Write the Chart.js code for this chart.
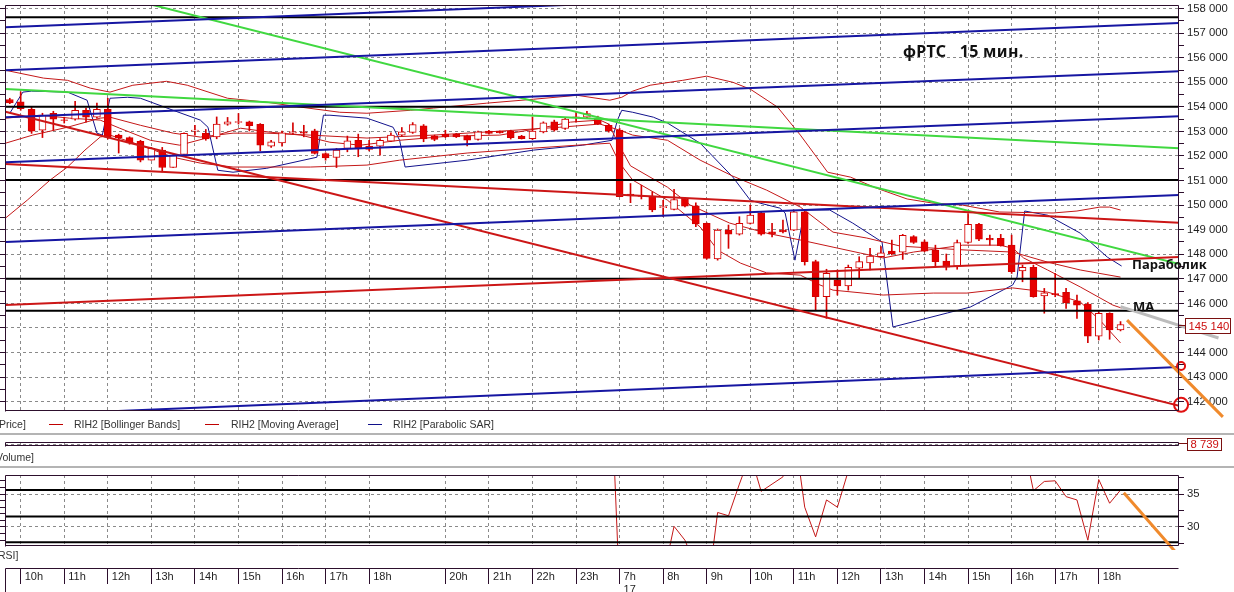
<!DOCTYPE html>
<html>
<head>
<meta charset="utf-8">
<title>фРТС 15 мин.</title>
<script src="https://cdn.jsdelivr.net/npm/chart.js@4.4.1/dist/chart.umd.min.js"></script>
<style>
  html, body { margin: 0; padding: 0; background: #fff; }
  body { width: 1234px; height: 592px; position: relative; overflow: hidden; font-family: 'Liberation Sans', Arial, sans-serif; }
  canvas { position: absolute; left: 0; }
  #priceChart { top: 0; }
  #volumeChart { top: 436px; }
  #rsiChart { top: 470px; }
  #timeChart { top: 560px; }
  .sep { position: absolute; left: 0; width: 1234px; height: 2px; background: #b4b4b4; }
  .pane { position: absolute; font-size: 10.5px; line-height: 12px; color: #333; white-space: pre; }
  .dash { position: absolute; height: 1px; width: 14px; }
  .note { position: absolute; font-family: 'Noto Sans', sans-serif; font-weight: bold; color: #111; white-space: pre; }
</style>
</head>
<body>
<canvas id="priceChart" width="1234" height="420"></canvas>
<canvas id="volumeChart" width="1234" height="16"></canvas>
<canvas id="rsiChart" width="1234" height="80"></canvas>
<canvas id="timeChart" width="1234" height="32"></canvas>

<div class="pane" style="left:-1px;top:418px">Price]</div>
<div class="dash" style="left:49px;top:424px;background:#c00000"></div>
<div class="pane" style="left:74px;top:418px">RIH2 [Bollinger Bands]</div>
<div class="dash" style="left:205px;top:424px;background:#c00000"></div>
<div class="pane" style="left:231px;top:418px">RIH2 [Moving Average]</div>
<div class="dash" style="left:368px;top:424px;background:#10108a"></div>
<div class="pane" style="left:393px;top:418px">RIH2 [Parabolic SAR]</div>
<div class="sep" style="top:433px"></div>
<div class="pane" style="left:-4px;top:451px">Volume]</div>
<div class="sep" style="top:466px"></div>
<div class="pane" style="left:-2px;top:549px">RSI]</div>

<div class="note" style="left:903px;top:40px;font-size:16px;letter-spacing:0.3px">фРТС   15 мин.</div>
<div class="note" style="left:1132px;top:255px;font-size:13px">Параболик</div>
<div class="note" style="left:1133px;top:297px;font-size:13px">MA</div>

<script>
// bar index of each hour line on the time axis
const hourTicks = [1, 5, 9, 13, 17, 21, 25, 29, 33, 40, 44, 48, 52, 56, 60, 64, 68, 72, 76, 80, 84, 88, 92, 96, 100];
const hourLabels = ['10h', '11h', '12h', '13h', '14h', '15h', '16h', '17h', '18h', '20h', '21h', '22h', '23h',
  ['7h', '17'], '8h', '9h', '10h', '11h', '12h', '13h', '14h', '15h', '16h', '17h', '18h'];

// 15 min candles, RIH2
const opens = [
  154300, 154200, 153900, 153050, 153740, 153470, 153500, 153860, 153580, 153900,
  152850, 152750, 152600, 151830, 152240, 151530, 152060, 153010, 152920, 152780,
  153300, 153370, 153390, 153290, 152400, 152530, 152930, 152980, 153020, 152100,
  151940, 152310, 152640, 152400, 152400, 152600, 152850, 152960, 153230, 152820,
  152890, 152880, 152820, 152670, 153010, 153010, 153010, 152810, 152710, 152980,
  153390, 153120, 153560, 153580, 153530, 153250, 153050, 150450, 150390, 150370,
  149900, 149830, 150270, 149970, 149260, 147810, 148980, 148820, 149260, 149690,
  148910, 148980, 148980, 149730, 147700, 146270, 146950, 146710, 147430, 147650,
  147900, 148130, 148090, 148720, 148510, 148170, 147720, 147520, 148480, 149220,
  148650, 148650, 148370, 147320, 147470, 146300, 146400, 146450, 146100, 145970,
  144670, 145600, 144920
];
const highs = [
  154350, 154610, 153990, 153740, 153820, 153580, 154230, 153950, 154150, 154350,
  152890, 152780, 152640, 152350, 152350, 152060, 152940, 153250, 153080, 153590,
  153570, 153730, 153420, 153320, 152640, 153010, 153350, 153250, 153090, 152130,
  152310, 152810, 152890, 152640, 152710, 152940, 153160, 153360, 153280, 152850,
  153050, 152920, 152850, 153010, 153040, 153020, 153050, 152840, 153590, 153390,
  153460, 153530, 153780, 153820, 153620, 153300, 153120, 150880, 150810, 150540,
  150200, 150640, 150310, 150090, 149280, 149030, 149190, 149530, 150000, 149730,
  149260, 149390, 149800, 149800, 147760, 147390, 147360, 147560, 147900, 148240,
  148310, 148580, 148810, 148760, 148580, 148370, 148010, 148580, 149660, 149260,
  148780, 148810, 148780, 147560, 147560, 146610, 147220, 146610, 146340, 146030,
  145660, 145620, 145260
];
const lows = [
  154130, 153860, 152920, 152750, 153050, 153340, 153460, 153380, 153540, 152690,
  152120, 152480, 151760, 151830, 151350, 151530, 152060, 152850, 152640, 152700,
  153250, 153300, 153020, 152210, 152350, 152400, 152890, 152780, 152080, 151830,
  151530, 152170, 151970, 152210, 152030, 152580, 152810, 152920, 152580, 152620,
  152750, 152750, 152410, 152640, 152890, 152930, 152690, 152690, 152670, 152940,
  153010, 153080, 153380, 153540, 153280, 152970, 150340, 150100, 150250, 149730,
  149530, 149800, 149930, 149120, 147800, 147760, 148240, 148780, 149230, 148780,
  148710, 148870, 148960, 147560, 145730, 145390, 146340, 146540, 147020, 147360,
  147890, 147970, 147790, 148440, 148100, 147470, 147360, 147390, 148440, 148550,
  148370, 148330, 147220, 146880, 146250, 145600, 146270, 145800, 145390, 144400,
  144510, 144540, 144880
];
const closes = [
  154160, 153930, 153010, 153660, 153500, 153450, 153860, 153580, 153900, 152770,
  152750, 152530, 151830, 152310, 151530, 152030, 152920, 153050, 152690, 153300,
  153390, 153400, 153230, 152440, 152580, 152940, 152980, 152930, 152100, 151920,
  152240, 152620, 152310, 152270, 152640, 152850, 152980, 153280, 152690, 152670,
  152780, 152780, 152640, 152980, 152920, 152940, 152750, 152710, 153010, 153350,
  153050, 153500, 153590, 153730, 153300, 153020, 150340, 150370, 150350, 149800,
  149940, 150230, 149960, 149230, 147830, 148980, 148820, 149260, 149590, 148820,
  148820, 148910, 149730, 147700, 146270, 147220, 146710, 147470, 147700, 147930,
  148060, 148020, 148770, 148480, 148130, 147700, 147470, 148480, 149220, 148610,
  148580, 148350, 147290, 147470, 146270, 146430, 146360, 146030, 145930, 144670,
  145600, 144920, 145140
];

// indicators, [bar index, price]
const bbUpper = [[-0.4, 155490], [3.1, 155170], [5.3, 155080], [7.4, 154760], [9.2, 154600], [11.3, 154880],
  [14.4, 155040], [16.3, 154880], [20.0, 154350], [23.6, 154190], [26.7, 153990], [30.3, 153780], [32.8, 153740],
  [36.8, 153860], [38.9, 153950], [43.8, 154150], [48.1, 154310], [52.1, 154470], [55.1, 154270], [56.2, 154390],
  [57.2, 154640], [58.8, 154880], [61.8, 155080], [64.0, 155250], [66.4, 155000], [68.0, 154720], [70.5, 153990],
  [72.6, 152850], [74.1, 151950], [75.1, 151340], [77.2, 151140], [79.6, 150690], [82.4, 150250], [84.8, 150080],
  [87.5, 150000], [90.9, 149720], [95.8, 149680], [98.0, 149760], [100.1, 149920], [101.0, 149920], [102.0, 149800]];
const bbMiddle = [[-0.4, 152520], [2.1, 152850], [5.3, 153170], [8.3, 153540], [9.2, 153580], [12.0, 153250],
  [15.0, 152930], [17.5, 152770], [20.5, 152930], [23.6, 152930], [27.6, 152850], [32.8, 152730], [38.9, 152850],
  [45.0, 153010], [50.5, 153170], [54.2, 153300], [56.0, 153050], [57.2, 152850], [60.4, 152640], [63.4, 151830],
  [66.4, 151180], [69.5, 150610], [72.6, 149920], [75.6, 148900], [78.7, 148660], [81.8, 148330], [84.8, 148250],
  [87.9, 148170], [92.1, 148090], [95.3, 147680], [98.3, 147360], [102.0, 147070]];
const bbLower = [[-0.4, 149470], [1.6, 150200], [3.7, 151020], [5.3, 151550], [6.9, 152240], [8.3, 152770],
  [9.2, 152850], [12.0, 152440], [15.0, 151950], [17.5, 151710], [20.5, 151550], [27.6, 151550], [32.8, 151630],
  [35.8, 151830], [42.0, 152120], [48.1, 152320], [52.1, 152440], [55.1, 152520], [56.0, 151710], [57.2, 151020],
  [60.4, 150200], [63.4, 149110], [65.0, 148170], [67.1, 147640], [69.5, 147240], [72.6, 147150], [74.4, 146750],
  [75.6, 146540], [80.2, 146340], [84.8, 146420], [87.9, 146420], [92.1, 146630], [95.3, 146460], [98.3, 146060],
  [100.1, 145320], [102.0, 144390]];
const maFast = [[-0.4, 153540], [2.8, 153660], [5.5, 153540], [8.3, 153460], [10.1, 153130], [12.9, 152640],
  [15.6, 152440], [18.4, 152770], [21.2, 153130], [23.9, 152970], [26.7, 152850], [29.4, 152560], [32.2, 152440],
  [35.8, 152640], [40.4, 152810], [45.0, 152850], [48.7, 153130], [51.5, 153380], [54.2, 153460], [55.0, 153300],
  [56.0, 152400], [57.0, 151600], [60.4, 150730], [62.5, 150000], [66.1, 149270], [69.5, 148860], [72.6, 148580],
  [75.6, 148290], [78.1, 148050], [80.2, 147850], [83.0, 148090], [87.5, 148370], [90.9, 148370], [92.1, 148250],
  [93.1, 147850], [95.3, 147360], [98.3, 146670], [101.3, 145930], [102.1, 145810]];
const sar = [[0.0, 153740], [1.2, 154600], [2.0, 154640], [5.3, 154600], [7.1, 154270], [8.0, 152930], [8.5, 152850],
  [9.2, 154350], [10.8, 154390], [12.0, 154350], [15.0, 153860], [17.5, 153460], [18.2, 153170], [19.1, 151420],
  [20.5, 151340], [23.6, 151500], [28.2, 151950], [28.8, 153660], [29.4, 153660], [32.8, 153540], [35.2, 153170],
  [35.8, 152640], [36.3, 151550], [42.0, 151830], [48.1, 152240], [52.6, 152440], [55.3, 152640], [55.8, 153460],
  [56.2, 153860], [57.2, 153780], [59.1, 153580], [60.4, 153340], [63.4, 152520], [66.4, 151140], [68.0, 150200],
  [68.9, 150080], [70.7, 149880], [71.2, 149680], [72.1, 147760], [73.0, 149800], [75.3, 149800], [77.4, 149270],
  [80.1, 148500], [81.1, 145040], [86.1, 145610], [88.2, 145850], [92.1, 146750], [92.5, 147070], [93.2, 149760],
  [95.3, 149590], [98.3, 148860], [100.8, 147880], [102.1, 147520]];

// hand-drawn trend lines
const blueLines = [
  [[-0.4, 157240], [107.4, 159140]],
  [[-0.4, 155490], [107.4, 157415]],
  [[-0.4, 153580], [107.4, 155450]],
  [[-0.4, 151750], [107.4, 153620]],
  [[-0.4, 148500], [107.4, 150410]],
  [[-0.4, 141430], [107.4, 143410]]
];
const greenLines = [
  [[-0.4, 159660], [107.4, 147600]],
  [[-0.4, 154730], [107.4, 152310]]
];
const redLines = [
  [[-0.4, 153800], [107.4, 141830]],
  [[-0.4, 151670], [107.4, 149280]],
  [[-0.4, 145930], [107.4, 147890]]
];
const levels = [157650, 154000, 151020, 147000, 145700];
const maForecast = [[102, 145870], [111, 144590]];
const priceArrow = [[102.6, 145320], [111.4, 141380]];
const targets = [[107.56, 143450], [107.56, 141870]];

const rsi = [
  52, 50, 44, 47, 46, 46, 49, 47, 50, 42,
  41, 40.5, 40, 43, 41, 44, 49, 50, 48, 52,
  53, 53, 52, 46, 47, 50, 50, 50, 45, 43,
  46, 49, 47, 46, 48, 50, 52, 54, 48, 47,
  47, 47, 46, 49, 50, 50, 48, 47, 50, 53,
  52, 55, 56, 57, 55, 60, 20, 17, 19, 16,
  22.4, 30.1, 28, 24, 19.2, 32.2, 31.7, 36.5, 41, 35.4,
  36.5, 37.6, 45, 33, 28.5, 34.1, 33, 38.5, 46, 48,
  49, 48, 52, 50, 47, 42, 41, 47, 53, 47,
  46, 45, 41, 43.5, 35.5, 36.9, 37.0, 34.6, 34.1, 28.0,
  37.2, 33.6, 35.6
];
const rsiLevels = [35.6, 31.6, 27.7];
const rsiArrow = [[102.3, 35.2], [108.75, 23.0]];
const lastVolume = 8739;

const X_MIN = -0.44, X_MAX = 107.37;
const P_MIN = 141620, P_MAX = 158146;
const R_MIN = 27.12, R_MAX = 37.88;

const FONT = "'Liberation Sans', Arial, sans-serif";
const frameColor = '#2d0f2d';
const gridGray = '#8a8a8a';
const thinRed = '#c41818';

const fmt = v => String(v).replace(/(\d)(?=(\d{3})$)/, '$1 ');
const pts = arr => arr.map(p => ({ x: p[0], y: p[1] }));
const span = v => [[X_MIN, v], [X_MAX, v]];

function stepTicks(min, max, step) {
  const out = [];
  for (let v = Math.ceil(min / step) * step; v <= max + 1e-9; v += step) out.push({ value: +v.toFixed(4) });
  return out;
}

// keep the plot area exactly where the layout puts it
function noPad(s) { s.paddingTop = 0; s.paddingBottom = 0; s.paddingLeft = 0; s.paddingRight = 0; }

function line(points, color, width, order, extra) {
  return Object.assign({
    type: 'line', data: pts(points), borderColor: color, borderWidth: width,
    pointRadius: 0, fill: false, tension: 0, order: order, clip: 0
  }, extra || {});
}

function hourAxis(extra) {
  return Object.assign({
    type: 'linear', min: X_MIN, max: X_MAX, offset: false,
    afterBuildTicks: s => { s.ticks = hourTicks.map(v => ({ value: v })); },
    afterFit: s => { s.height = 0; noPad(s); },
    ticks: { display: false },
    grid: { color: gridGray, drawTicks: false, offset: false },
    border: { display: false, dash: [3, 3] }
  }, extra || {});
}

function leftTicks(min, max, step) {
  return {
    type: 'linear', position: 'left', min: min, max: max,
    afterBuildTicks: s => { s.ticks = stepTicks(min, max, step); },
    afterFit: s => { s.width = 5; noPad(s); },
    ticks: { display: false },
    grid: { drawOnChartArea: false, tickLength: 5, tickColor: frameColor },
    border: { display: false }
  };
}

function rightAxis(min, max, step, labelEvery, gridEvery) {
  return {
    type: 'linear', position: 'right', min: min, max: max,
    afterBuildTicks: s => { s.ticks = stepTicks(min, max, step); },
    afterFit: s => { s.width = 55; noPad(s); },
    ticks: {
      autoSkip: false, padding: 3, color: '#1e1e1e', font: { family: FONT, size: 11.3 },
      callback: v => (labelEvery && Math.abs(v / labelEvery - Math.round(v / labelEvery)) < 1e-6) ? fmt(v) : ''
    },
    grid: {
      tickLength: 5, tickColor: frameColor,
      color: c => (gridEvery && c.tick && Math.abs(c.tick.value / gridEvery - Math.round(c.tick.value / gridEvery)) < 1e-6) ? gridGray : 'rgba(0,0,0,0)'
    },
    border: { display: false, dash: [3, 3] }
  };
}

const framePlugin = {
  id: 'frame',
  afterDatasetsDraw(chart, args, opts) {
    const { ctx } = chart;
    // the time strip is framed by its axis box, the panels by the plot area
    const a = opts.useAxis ? chart.scales.x : chart.chartArea;
    const sides = opts.sides || 'tlrb';
    const L = Math.round(a.left) + 0.5, R = Math.round(a.right) - 0.5;
    const T = Math.round(a.top) + 0.5, B = Math.round(a.bottom) - 0.5;
    ctx.save();
    ctx.strokeStyle = frameColor;
    ctx.lineWidth = 1;
    ctx.beginPath();
    if (sides.includes('t')) { ctx.moveTo(L, T); ctx.lineTo(R, T); }
    if (sides.includes('b')) { ctx.moveTo(L, B); ctx.lineTo(R, B); }
    if (sides.includes('l')) { ctx.moveTo(L, T); ctx.lineTo(L, B + 1); }
    if (sides.includes('r')) { ctx.moveTo(R, T); ctx.lineTo(R, B); }
    ctx.stroke();
    ctx.restore();
  }
};

const tagPlugin = {
  id: 'tag',
  afterDraw(chart, args, opts) {
    if (!opts.text) return;
    const { ctx, chartArea: a } = chart;
    const y = Math.round(chart.scales[opts.axis].getPixelForValue(opts.value)) + 0.5;
    const x0 = Math.round(a.right + opts.gap) + 0.5;
    const h = opts.height, w = opts.width;
    ctx.save();
    ctx.strokeStyle = '#7a1010';
    ctx.lineWidth = 1;
    ctx.beginPath(); ctx.moveTo(a.right, y); ctx.lineTo(x0, y); ctx.stroke();
    ctx.fillStyle = '#fff';
    ctx.fillRect(x0, Math.round(y - h / 2), w, h);
    ctx.strokeRect(x0, Math.round(y - h / 2) + 0.5, w, h);
    ctx.fillStyle = '#cc1010';
    ctx.font = '11.3px ' + FONT;
    ctx.textBaseline = 'middle';
    ctx.fillText(opts.text, x0 + 3, y + 1);
    ctx.restore();
  }
};

// autoPadding off: the outside marks (arrow, circles) must not move the plot area
function opts(padding, scales, pluginOpts) {
  return {
    responsive: false,
    animation: false,
    events: [],
    layout: { autoPadding: false, padding: padding },
    scales: scales,
    plugins: Object.assign({ legend: { display: false }, tooltip: { enabled: false } }, pluginOpts)
  };
}

// price panel
const bull = i => closes[i] >= opens[i];
new Chart(document.getElementById('priceChart'), {
  type: 'bar',
  data: {
    datasets: [
      line(bbUpper, thinRed, 1, 7),
      line(bbMiddle, thinRed, 1, 7),
      line(bbLower, thinRed, 1, 7),
      line(maFast, thinRed, 1, 7),
      line(sar, '#12128c', 1, 7),
      {
        type: 'bar', data: lows.map((l, i) => ({ x: i, y: [l, highs[i]] })),
        backgroundColor: '#d40000', barThickness: 1, grouped: false, order: 6
      },
      {
        type: 'bar', data: opens.map((o, i) => ({ x: i, y: [o, closes[i]] })),
        backgroundColor: c => bull(c.dataIndex) ? '#ffffff' : '#e60000',
        borderColor: '#d40000', borderWidth: 1, borderSkipped: false,
        barThickness: 7, grouped: false, order: 5
      },
      ...levels.map(v => line(span(v), '#000000', 2, 4)),
      ...blueLines.map(l => line(l, '#1616a2', 2, 3)),
      ...redLines.map(l => line(l, '#cc1616', 2, 3)),
      ...greenLines.map(l => line(l, '#40d840', 2, 3)),
      line(maForecast, '#bcbcbc', 3, 1, { clip: false }),
      line(priceArrow, '#f08a2c', 3, 1, {
        clip: false, pointRadius: [0, 5], pointStyle: 'triangle', pointRotation: 135,
        pointBackgroundColor: '#f08a2c', pointBorderWidth: 0
      }),
      {
        type: 'line', data: pts(targets), showLine: false, pointRadius: [4, 7],
        pointBorderColor: '#e01010', pointBackgroundColor: 'rgba(0,0,0,0)', pointBorderWidth: 2,
        clip: false, order: 1
      }
    ]
  },
  options: opts({ top: 5, bottom: 9, left: 0, right: 0 }, {
    x: hourAxis(),
    y: rightAxis(P_MIN, P_MAX, 500, 1000, 1000),
    yl: leftTicks(P_MIN, P_MAX, 500)
  }, {
    frame: { sides: 'tlrb' },
    tag: { axis: 'y', value: closes[closes.length - 1], text: fmt(closes[closes.length - 1]), gap: 6, width: 45, height: 15 }
  }),
  plugins: [framePlugin, tagPlugin]
});

// volume strip
new Chart(document.getElementById('volumeChart'), {
  type: 'bar',
  data: { datasets: [] },
  options: opts({ top: 6, bottom: 6, left: 0, right: 0 }, {
    x: hourAxis(),
    y: Object.assign(rightAxis(0, 10000, 5000, 0, 5000), {
      afterBuildTicks: s => { s.ticks = [{ value: 5000 }]; },
      ticks: { display: false },
      grid: { drawTicks: false, color: gridGray }
    }),
    yl: Object.assign(leftTicks(0, 10000, 5000), { grid: { display: false } })
  }, {
    frame: { sides: 'tlrb' },
    tag: { axis: 'y', value: lastVolume, text: fmt(lastVolume), gap: 8, width: 34, height: 12 }
  }),
  plugins: [framePlugin, tagPlugin]
});

// RSI panel
new Chart(document.getElementById('rsiChart'), {
  type: 'line',
  data: {
    datasets: [
      line(rsi.map((v, i) => [i, v]), '#c41818', 1, 3),
      ...rsiLevels.map(v => line(span(v), '#000000', 2, 2)),
      line(rsiArrow, '#f08a2c', 3, 1, { clip: false })
    ]
  },
  options: opts({ top: 5, bottom: 4, left: 0, right: 0 }, {
    x: hourAxis(),
    y: rightAxis(R_MIN, R_MAX, 2.5, 5, 5),
    yl: leftTicks(R_MIN, R_MAX, 1)
  }, { frame: { sides: 'tlrb' } }),
  plugins: [framePlugin]
});

// time axis: the axis box itself holds the hour cells
new Chart(document.getElementById('timeChart'), {
  type: 'line',
  data: { datasets: [] },
  options: opts({ top: 7, bottom: 0, left: 0, right: 0 }, {
    x: hourAxis({
      afterFit: s => { s.height = 24; noPad(s); },
      ticks: {
        display: true, autoSkip: false, maxRotation: 0, align: 'start', labelOffset: 4, padding: -13.6,
        color: '#1e1e1e', font: { family: FONT, size: 11 },
        callback: (v, i) => hourLabels[i]
      },
      grid: { drawOnChartArea: false, drawTicks: true, tickLength: 16, tickColor: frameColor, offset: false },
      border: { display: false }
    }),
    y: { type: 'linear', position: 'right', min: 0, max: 1, display: true,
      afterFit: s => { s.width = 55; noPad(s); }, ticks: { display: false }, grid: { display: false }, border: { display: false } },
    yl: { type: 'linear', position: 'left', min: 0, max: 1, display: true,
      afterFit: s => { s.width = 5; noPad(s); }, ticks: { display: false }, grid: { display: false }, border: { display: false } }
  }, { frame: { sides: 'tl', useAxis: true } }),
  plugins: [framePlugin]
});
</script>
</body>
</html>
